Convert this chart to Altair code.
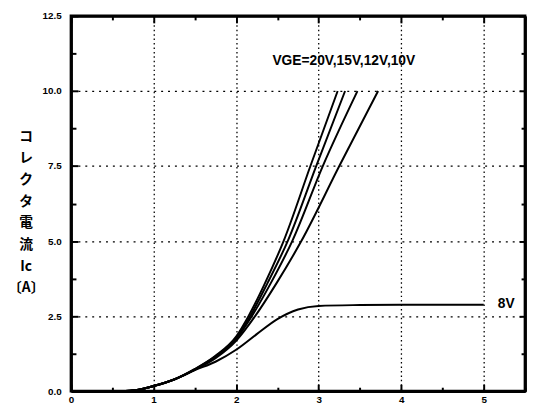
import altair as alt
import pandas as pd

# ---- data ----
series_names = ["20V", "15V", "12V", "10V", "8V"]

vce_20 = [0.6, 0.8, 1.0, 1.25, 1.5, 1.75, 2.0, 2.15, 2.35, 2.575, 2.9, 3.23]
ic_20 = [0.0, 0.04, 0.17, 0.39, 0.74, 1.18, 1.82, 2.5, 3.6, 5.0, 7.5, 10.0]

vce_15 = [0.6, 0.8, 1.0, 1.25, 1.5, 1.75, 2.0, 2.17, 2.38, 2.625, 2.97, 3.32]
ic_15 = [0.0, 0.04, 0.17, 0.39, 0.73, 1.16, 1.78, 2.5, 3.6, 5.0, 7.5, 10.0]

vce_12 = [0.6, 0.8, 1.0, 1.25, 1.5, 1.75, 2.0, 2.19, 2.42, 2.68, 3.05, 3.47]
ic_12 = [0.0, 0.04, 0.17, 0.39, 0.72, 1.14, 1.74, 2.5, 3.6, 5.0, 7.5, 10.0]

vce_10 = [0.6, 0.8, 1.0, 1.25, 1.5, 1.75, 2.0, 2.23, 2.49, 2.79, 3.25, 3.72]
ic_10 = [0.0, 0.04, 0.17, 0.39, 0.71, 1.1, 1.68, 2.5, 3.6, 5.0, 7.5, 10.0]

vce_8 = [0.6, 0.8, 1.0, 1.25, 1.5, 1.75, 2.0, 2.25, 2.5, 2.75, 3.0, 3.5, 4.0, 4.5, 5.0]
ic_8 = [0.0, 0.04, 0.17, 0.39, 0.7, 0.98, 1.38, 1.9, 2.4, 2.72, 2.84, 2.87, 2.88, 2.88, 2.88]

ann_text = ["VGE=20V,15V,12V,10V", "8V"]
ann_x = [2.44, 5.17]
ann_y = [11.0, 2.9]

x_ticks = [0, 0.5, 1, 1.5, 2, 2.5, 3, 3.5, 4, 4.5, 5, 5.5]
y_ticks = [0, 1.25, 2.5, 3.75, 5, 6.25, 7.5, 8.75, 10, 11.25, 12.5]
y_title = ["コ", "レ", "ク", "タ", "電", "流", "Ic", "〔A〕"]

# ---- build tables ----
rows = []
for name, xs, ys in zip(series_names,
                        [vce_20, vce_15, vce_12, vce_10, vce_8],
                        [ic_20, ic_15, ic_12, ic_10, ic_8]):
    for i, (a, b) in enumerate(zip(xs, ys)):
        rows.append({"series": name, "vce": a, "ic": b, "idx": i})
df = pd.DataFrame(rows)
ann = pd.DataFrame({"text": ann_text, "x": ann_x, "y": ann_y})

xscale = alt.Scale(domain=[0, 5.5], nice=False, zero=False)
yscale = alt.Scale(domain=[0, 12.5], nice=False, zero=False)

LABEL_FONT = "Liberation Sans"

x_bottom = alt.Axis(
    orient="bottom", values=x_ticks, title=None,
    labelExpr="datum.value % 1 === 0 ? format(datum.value, 'd') : ''",
    labelFont=LABEL_FONT, labelFontSize=10, labelFontWeight="bold", labelColor="black",
    labelPadding=11, labelFlush=False, labelOverlap=False,
    tickSize={"expr": "datum.value % 1 === 0 ? -7 : -4"},
    tickColor="black", tickWidth=2,
    domainColor="black", domainWidth=2.8,
    grid=True, gridColor="black", gridWidth=1.3, gridDash=[1.5, 3],
    gridOpacity={"expr": "datum.value % 1 === 0 ? 1 : 0"},
)
y_left = alt.Axis(
    orient="left", values=y_ticks, title=y_title,
    labelExpr="datum.value % 2.5 === 0 ? format(datum.value, '.1f') : ''",
    labelFont=LABEL_FONT, labelFontSize=10, labelFontWeight="bold", labelColor="black",
    labelPadding=17, labelFlush=False, labelOverlap=False,
    tickSize={"expr": "datum.value % 2.5 === 0 ? -7 : -5"},
    tickColor="black", tickWidth=2,
    domainColor="black", domainWidth=2.8,
    grid=True, gridColor="black", gridWidth=1.3, gridDash=[2, 5],
    gridOpacity={"expr": "datum.value % 2.5 === 0 ? 1 : 0"},
    titleAngle=0, titleAlign="center", titleBaseline="middle",
    titleX=-46, titleY=122,
    titleFont="Noto Sans CJK JP", titleFontSize=14, titleFontWeight="bold",
    titleColor="black", titleLineHeight=22,
)
x_top = alt.Axis(
    orient="top", values=x_ticks, title=None, labels=False, grid=False,
    tickSize={"expr": "datum.value % 1 === 0 ? -7 : -4"},
    tickColor="black", tickWidth=2,
    domainColor="black", domainWidth=2.8,
)
y_right = alt.Axis(
    orient="right", values=y_ticks, title=None, labels=False, grid=False,
    tickSize={"expr": "datum.value % 2.5 === 0 ? -6 : -4"},
    tickColor="black", tickWidth=2,
    domainColor="black", domainWidth=2.8,
)

lines = alt.Chart(df).mark_line(
    color="black", strokeWidth=2, interpolate="monotone"
).encode(
    x=alt.X("vce:Q", scale=xscale, axis=x_bottom),
    y=alt.Y("ic:Q", scale=yscale, axis=y_left),
    detail="series:N",
    order="idx:Q",
)

texts = alt.Chart(ann).mark_text(
    align="left", baseline="middle", font=LABEL_FONT, fontSize=14,
    fontWeight="bold", color="black",
).encode(
    x=alt.X("x:Q", scale=xscale, axis=x_top),
    y=alt.Y("y:Q", scale=yscale, axis=y_right),
    text="text:N",
)

chart = alt.layer(lines, texts).resolve_axis(
    x="independent", y="independent"
).properties(
    width=461, height=381,
    autosize=alt.AutoSizeParams(type="none"),
    padding={"left": 64, "top": 5, "right": 2, "bottom": 13},
    background="white",
).configure_view(stroke="black", strokeWidth=2.8)

chart.save("out.html", embed_options={"renderer": "svg", "actions": False})
